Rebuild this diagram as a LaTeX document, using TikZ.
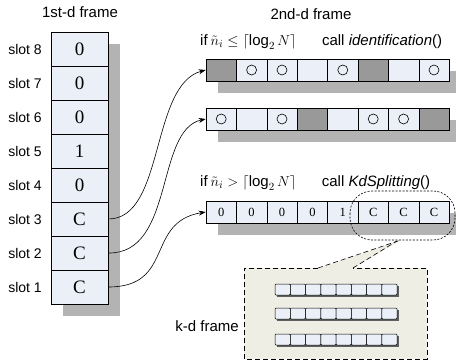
\documentclass[tikz,border=0pt]{standalone}
\usepackage{fontspec}
\setmainfont{Liberation Sans}
\newfontfamily\seriffont{Liberation Serif}
\usetikzlibrary{arrows.meta}
\definecolor{cellblue}{RGB}{234,239,248}
\definecolor{darkcell}{RGB}{153,153,153}
\definecolor{shadowgray}{RGB}{179,179,179}
\definecolor{kdbg}{RGB}{238,238,228}
\definecolor{minishadow}{RGB}{95,95,95}
\begin{document}
\begin{tikzpicture}[x=1pt,y=-1pt,
  lbl/.style={font=\fontsize{15}{17}\selectfont, inner sep=0pt},
  slotlbl/.style={font=\fontsize{14}{16}\selectfont, inner sep=0pt, anchor=east},
  slotcell/.style={draw, line width=0.6pt, fill=cellblue, minimum width=57pt, minimum height=34pt, inner sep=0pt, font=\seriffont\fontsize{19}{21}\selectfont},
  rowcell/.style={draw, line width=0.6pt, fill=cellblue, minimum width=30.4pt, minimum height=22pt, inner sep=0pt, font=\seriffont\fontsize{12.5}{14}\selectfont},
  graycell/.style={rowcell, fill=darkcell},
  conn/.style={line width=0.6pt, -{Stealth[length=7pt,width=5pt]}},
  dot/.style={circle, draw, line width=0.6pt, minimum size=10pt, inner sep=0pt},
  kddash/.style={dash pattern=on 5pt off 3pt, line width=0.6pt}
]
\useasboundingbox (0,0) rectangle (456,364);
% titles
\node[lbl] (t1) at (80,12) {1st-d frame};
\node[lbl] (t2) at (311,14) {2nd-d frame};
% 1st-d frame column
\fill[shadowgray] (63,44) rectangle (120,316);
\foreach \i/\v in {8/0,7/0,6/0,5/1,4/0,3/C,2/C,1/C}{
  \node[slotcell] (s\i) at (79.5,{49+(8-\i)*34}) {\v};
  \node[slotlbl] (sl\i) at (42,{49+(8-\i)*34}) {slot \i};
}
% row shadows
\fill[shadowgray] (218,71) rectangle (456,93);
\fill[shadowgray] (218,120) rectangle (456,142);
\fill[shadowgray] (218,213) rectangle (456,235);
% row 1
\foreach \k/\t in {1/g,2/o,3/o,4/e,5/o,6/g,7/e,8/o}{
  \if g\t
    \node[graycell] (a\k) at ({206+15.2+(\k-1)*30.4},70) {};
  \else
    \node[rowcell] (a\k) at ({206+15.2+(\k-1)*30.4},70) {};
  \fi
}
\foreach \k in {2,3,5,8}{ \node[dot] (ad\k) at (a\k) {}; }
% row 2
\foreach \k/\t in {1/o,2/e,3/o,4/g,5/e,6/o,7/o,8/g}{
  \if g\t
    \node[graycell] (b\k) at ({206+15.2+(\k-1)*30.4},119) {};
  \else
    \node[rowcell] (b\k) at ({206+15.2+(\k-1)*30.4},119) {};
  \fi
}
\foreach \k in {1,3,6,7}{ \node[dot] (bd\k) at (b\k) {}; }
% row 3
\foreach \k/\v in {1/0,2/0,3/0,4/0,5/1,6/C,7/C,8/C}{
  \node[rowcell] (c\k) at ({206+15.2+(\k-1)*30.4},212) {\v};
}
% conditions
\node[lbl, anchor=west] (if1) at (200,42) {if\kern3pt$\tilde{n}_i \le \lceil \log_2 N\rceil$\hspace{1.7em}call \textit{identification}()};
\node[lbl, anchor=west] (if2) at (200,183) {if\kern3pt$\tilde{n}_i > \lceil \log_2 N\rceil$\hspace{1.7em}call \textit{KdSplitting}()};
% connectors
\draw[conn] (s3.east) .. controls (165,219) and (150,85) .. (a1.west);
\draw[conn] (s2.east) .. controls (175,254) and (155,130) .. (b1.west);
\draw[conn] (s1.east) .. controls (175,287) and (145,222) .. (c1.west);
% k-d frame callout
\fill[kdbg] (244,268) rectangle (427,359);
\fill[kdbg] (318,268.5) -- (401,240) -- (353,268.5) -- cycle;
\draw[kddash] (318,268) -- (244,268) -- (244,359) -- (427,359) -- (427,268) -- (353,268);
\draw[kddash] (318,268) -- (401,240);
\draw[kddash] (353,268) -- (397,241);
\draw[dash pattern=on 2pt off 1.5pt, line width=0.6pt, rounded corners=22pt] (350,191) rectangle (455,240);
\node[lbl, anchor=east] (kd) at (239,326) {k-d frame};
% mini cells
\foreach \r in {284,308,334}{
  \foreach \k in {0,...,7}{
    \fill[minishadow] ({275+\k*15.25+1.5},{\r+1.5}) rectangle ({275+(\k+1)*15.25+1.5},{\r+12.5});
  }
  \foreach \k in {0,...,7}{
    \draw[fill=cellblue, line width=0.5pt, rounded corners=1pt] ({275+\k*15.25},\r) rectangle ({275+(\k+1)*15.25},{\r+11});
  }
}
\end{tikzpicture}
\end{document}
